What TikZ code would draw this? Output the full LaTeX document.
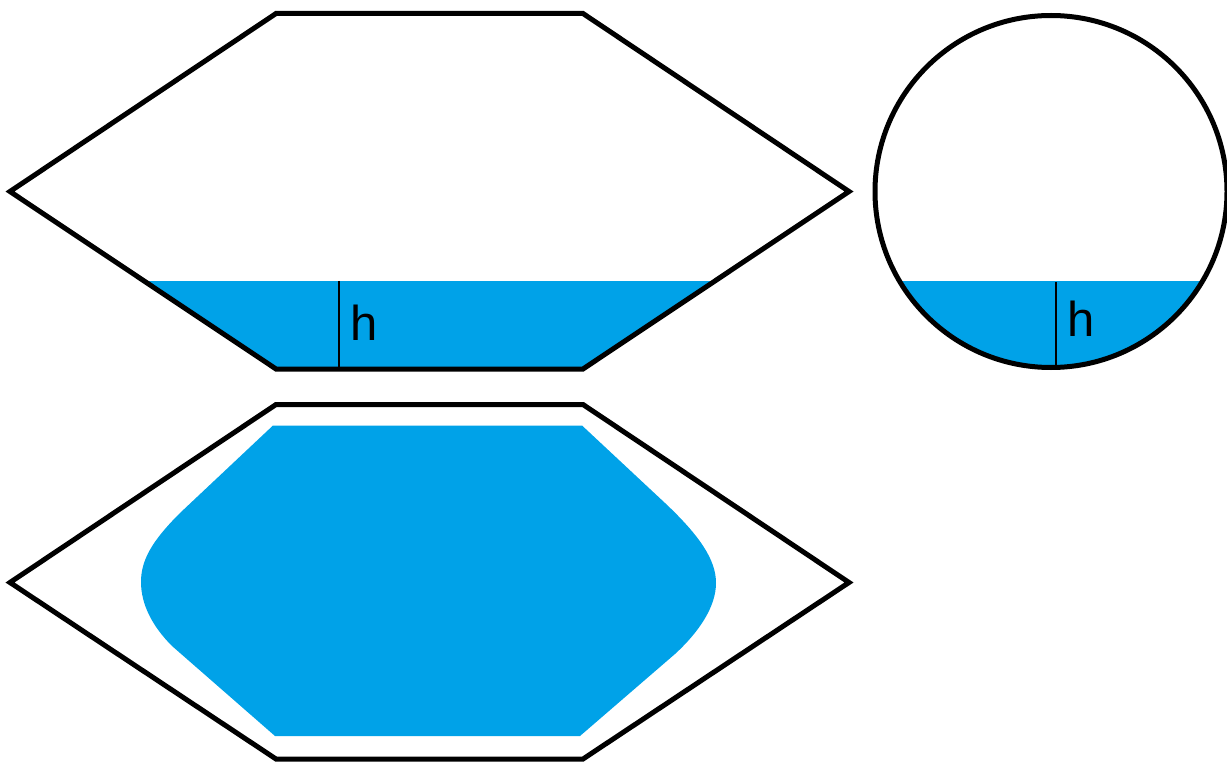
\documentclass[tikz,border=0pt]{standalone}
\usepackage{fontspec}
\setmainfont{Liberation Sans}
\definecolor{water}{HTML}{00A2E8}
\tikzset{
  outline/.style={draw=black, line width=5pt, line join=miter},
  waterfill/.style={fill=water, draw=none},
  hline/.style={draw=black, line width=2pt},
  hlabel/.style={anchor=base west, inner sep=0pt, font=\fontsize{49}{49}\selectfont}
}
\begin{document}
\begin{tikzpicture}[x=1pt,y=-1pt]
\useasboundingbox (0,0) rectangle (1227,762);
% ---------- top hexagon ----------
\coordinate (t1) at (276,13.5);
\coordinate (t2) at (583,13.5);
\coordinate (t3) at (849,191.5);
\coordinate (t4) at (583,369);
\coordinate (t5) at (276,369);
\coordinate (t6) at (10,191.5);
\begin{scope}
  \clip (t1) -- (t2) -- (t3) -- (t4) -- (t5) -- (t6) -- cycle;
  \fill[water] (0,281) rectangle (860,380);
\end{scope}
\draw[outline] (t1) -- (t2) -- (t3) -- (t4) -- (t5) -- (t6) -- cycle;
\coordinate (ha) at (338.5,281);
\coordinate (hb) at (338.5,369);
\draw[hline] (ha) -- (hb);
\node[hlabel] (hl1) at (350,341) {h};
% ---------- circle ----------
\coordinate (cc) at (1051,191.5);
\begin{scope}
  \clip (cc) circle (176);
  \fill[water] (860,281) rectangle (1240,380);
\end{scope}
\draw[outline] (cc) circle (176);
\coordinate (ca) at (1055.5,282);
\coordinate (cb) at (1055.5,368);
\draw[hline] (ca) -- (cb);
\node[hlabel] (hl2) at (1067,336) {h};
% ---------- bottom hexagon ----------
\coordinate (b1) at (276,404.5);
\coordinate (b2) at (583,404.5);
\coordinate (b3) at (849,582.5);
\coordinate (b4) at (583,759);
\coordinate (b5) at (276,759);
\coordinate (b6) at (10,582.5);
\fill[waterfill] (273,425.5) -- (582,425.5) -- (665,503)
  .. controls (700,536) and (716,560) .. (716,583)
  .. controls (716,606) and (700,631) .. (675,654)
  -- (580,736) -- (275,736) -- (172,646)
  .. controls (152,626) and (141,604) .. (141,582)
  .. controls (141,560) and (152,541) .. (180,513)
  -- cycle;
\draw[outline] (b1) -- (b2) -- (b3) -- (b4) -- (b5) -- (b6) -- cycle;
\end{tikzpicture}
\end{document}
